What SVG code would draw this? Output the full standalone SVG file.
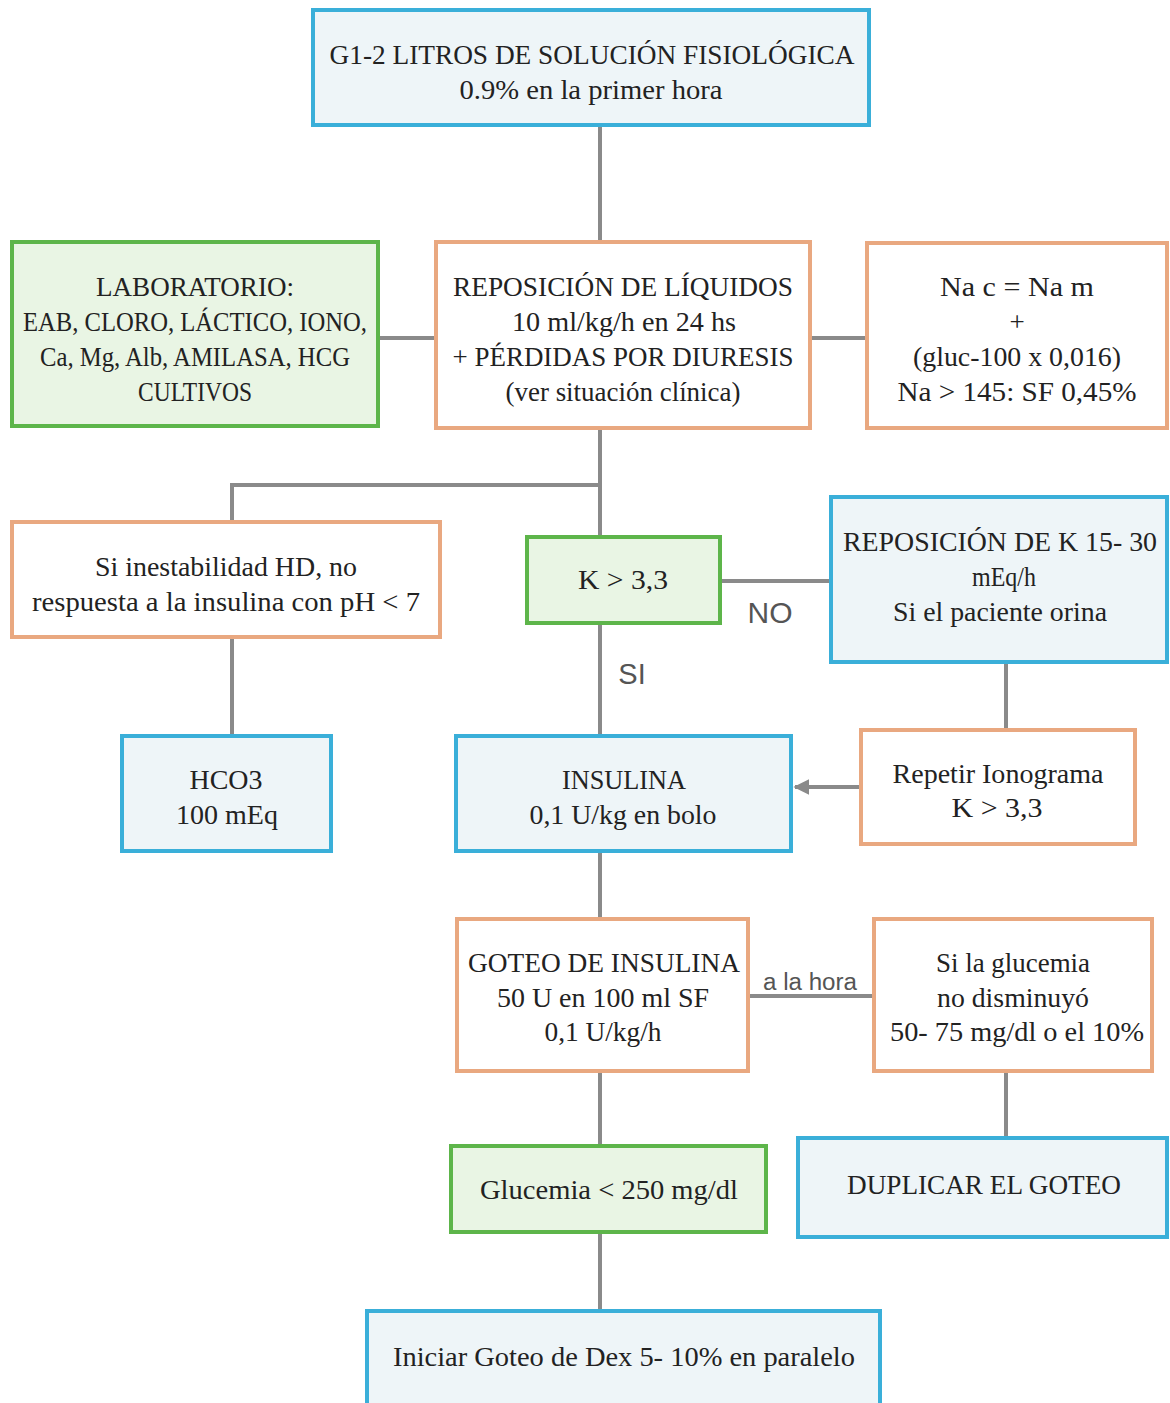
<svg xmlns="http://www.w3.org/2000/svg" width="1170" height="1403" viewBox="0 0 1170 1403">
<style>
.b{fill:#eef5f8;stroke:#3aafd9;stroke-width:4}
.o{fill:#ffffff;stroke:#e9a880;stroke-width:4}
.g{fill:#e9f5e4;stroke:#5db54a;stroke-width:4}
text{font-family:"Liberation Serif","Times New Roman",serif;font-size:27px;fill:#222;text-anchor:middle}
.s{font-family:"Liberation Sans",Arial,sans-serif;fill:#555}
.c{stroke:#8a8a8a;stroke-width:4;fill:none}
</style>
<defs>
<marker id="ah" viewBox="0 0 10 10" refX="9" refY="5" markerWidth="4" markerHeight="4" orient="auto">
<path d="M0,0 L10,5 L0,10 z" fill="#8a8a8a"/>
</marker>
</defs>
<rect width="1170" height="1403" fill="#ffffff"/>
<g id="connectors">
<path class="c" d="M600,125 V242"/>
<path class="c" d="M378,338 H436"/>
<path class="c" d="M810,338 H867"/>
<path class="c" d="M600,428 V537"/>
<path class="c" d="M600,485 H232 V522"/>
<path class="c" d="M232,637 V736"/>
<path class="c" d="M720,581 H831"/>
<path class="c" d="M600,623 V736"/>
<path class="c" d="M1006,662 V730"/>
<path class="c" d="M861,787 H795" marker-end="url(#ah)"/>
<path class="c" d="M600,851 V919"/>
<path class="c" d="M748,996 H874"/>
<path class="c" d="M1006,1071 V1138"/>
<path class="c" d="M600,1071 V1146"/>
<path class="c" d="M600,1232 V1311"/>
<text class="s" x="770" y="623" style="font-size:30px" textLength="45" lengthAdjust="spacingAndGlyphs">NO</text>
<text class="s" x="632" y="684" style="font-size:29px">SI</text>
<text class="s" x="810" y="990" style="font-size:23px" textLength="94" lengthAdjust="spacingAndGlyphs">a la hora</text>
</g>
<g id="n1"><rect class="b" x="313" y="10" width="556" height="115"/>
<text x="592" y="64" textLength="525" lengthAdjust="spacingAndGlyphs">G1-2 LITROS DE SOLUCIÓN FISIOLÓGICA</text>
<text x="591" y="99" textLength="263" lengthAdjust="spacingAndGlyphs">0.9% en la primer hora</text></g>
<g id="n2"><rect class="g" x="12" y="242" width="366" height="184"/>
<text x="195" y="296" textLength="198" lengthAdjust="spacingAndGlyphs">LABORATORIO:</text>
<text x="195" y="331" textLength="344" lengthAdjust="spacingAndGlyphs">EAB, CLORO, LÁCTICO, IONO,</text>
<text x="195" y="366" textLength="310" lengthAdjust="spacingAndGlyphs">Ca, Mg, Alb, AMILASA, HCG</text>
<text x="195" y="401" textLength="114" lengthAdjust="spacingAndGlyphs">CULTIVOS</text></g>
<g id="n3"><rect class="o" x="436" y="242" width="374" height="186"/>
<text x="623" y="296" textLength="340" lengthAdjust="spacingAndGlyphs">REPOSICIÓN DE LÍQUIDOS</text>
<text x="624" y="331" textLength="224" lengthAdjust="spacingAndGlyphs">10 ml/kg/h en 24 hs</text>
<text x="623" y="366" textLength="341" lengthAdjust="spacingAndGlyphs">+ PÉRDIDAS POR DIURESIS</text>
<text x="623" y="401" textLength="235" lengthAdjust="spacingAndGlyphs">(ver situación clínica)</text></g>
<g id="n4"><rect class="o" x="867" y="243" width="300" height="185"/>
<text x="1017" y="296" textLength="154" lengthAdjust="spacingAndGlyphs">Na c = Na m</text>
<text x="1017" y="331">+</text>
<text x="1017" y="366" textLength="208" lengthAdjust="spacingAndGlyphs">(gluc-100 x 0,016)</text>
<text x="1017" y="401" textLength="239" lengthAdjust="spacingAndGlyphs">Na &gt; 145: SF 0,45%</text></g>
<g id="n5"><rect class="o" x="12" y="522" width="428" height="115"/>
<text x="226" y="576" textLength="262" lengthAdjust="spacingAndGlyphs">Si inestabilidad HD, no</text>
<text x="226" y="611" textLength="388" lengthAdjust="spacingAndGlyphs">respuesta a la insulina con pH &lt; 7</text></g>
<g id="n6"><rect class="g" x="527" y="537" width="193" height="86"/>
<text x="623" y="589" textLength="90" lengthAdjust="spacingAndGlyphs">K &gt; 3,3</text></g>
<g id="n7"><rect class="b" x="831" y="497" width="336" height="165"/>
<text x="1000" y="551" textLength="314" lengthAdjust="spacingAndGlyphs">REPOSICIÓN DE K 15- 30</text>
<text x="1004" y="586" textLength="64" lengthAdjust="spacingAndGlyphs">mEq/h</text>
<text x="1000" y="621" textLength="214" lengthAdjust="spacingAndGlyphs">Si el paciente orina</text></g>
<g id="n8"><rect class="b" x="122" y="736" width="209" height="115"/>
<text x="226" y="789" textLength="73" lengthAdjust="spacingAndGlyphs">HCO3</text>
<text x="227" y="824" textLength="102" lengthAdjust="spacingAndGlyphs">100 mEq</text></g>
<g id="n9"><rect class="b" x="456" y="736" width="335" height="115"/>
<text x="624" y="789" textLength="124" lengthAdjust="spacingAndGlyphs">INSULINA</text>
<text x="623" y="824" textLength="187" lengthAdjust="spacingAndGlyphs">0,1 U/kg en bolo</text></g>
<g id="n10"><rect class="o" x="861" y="730" width="274" height="114"/>
<text x="998" y="783" textLength="211" lengthAdjust="spacingAndGlyphs">Repetir Ionograma</text>
<text x="997" y="817" textLength="91" lengthAdjust="spacingAndGlyphs">K &gt; 3,3</text></g>
<g id="n11"><rect class="o" x="457" y="919" width="291" height="152"/>
<text x="604" y="972" textLength="272" lengthAdjust="spacingAndGlyphs">GOTEO DE INSULINA</text>
<text x="603" y="1007" textLength="212" lengthAdjust="spacingAndGlyphs">50 U en 100 ml SF</text>
<text x="603" y="1041" textLength="117" lengthAdjust="spacingAndGlyphs">0,1 U/kg/h</text></g>
<g id="n12"><rect class="o" x="874" y="919" width="278" height="152"/>
<text x="1013" y="972" textLength="154" lengthAdjust="spacingAndGlyphs">Si la glucemia</text>
<text x="1013" y="1007" textLength="152" lengthAdjust="spacingAndGlyphs">no disminuyó</text>
<text x="1017" y="1041" textLength="254" lengthAdjust="spacingAndGlyphs">50- 75 mg/dl o el 10%</text></g>
<g id="n13"><rect class="g" x="451" y="1146" width="315" height="86"/>
<text x="609" y="1199" textLength="258" lengthAdjust="spacingAndGlyphs">Glucemia &lt; 250 mg/dl</text></g>
<g id="n14"><rect class="b" x="798" y="1138" width="369" height="99"/>
<text x="984" y="1194" textLength="274" lengthAdjust="spacingAndGlyphs">DUPLICAR EL GOTEO</text></g>
<g id="n15"><rect class="b" x="367" y="1311" width="513" height="100"/>
<text x="624" y="1366" textLength="462" lengthAdjust="spacingAndGlyphs">Iniciar Goteo de Dex 5- 10% en paralelo</text></g>
</svg>
